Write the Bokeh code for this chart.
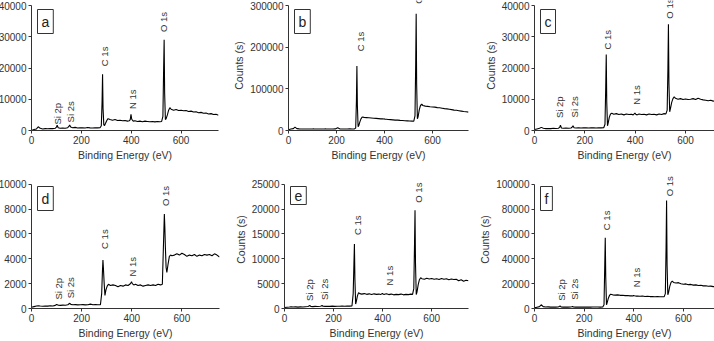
from bokeh.plotting import figure
from bokeh.layouts import row, column
from bokeh.models import Label, FixedTicker, BasicTickFormatter, Range1d
from bokeh.embed import file_html
from bokeh.resources import INLINE

energy = [0, 10, 20, 27, 35, 45, 55, 65, 75, 85,
          95, 100, 103, 107, 115, 125, 135, 145, 150, 153,
          157, 165, 175, 185, 195, 205, 215, 225, 235, 245,
          255, 265, 275, 280, 283, 285, 287, 290, 293, 297,
          302, 307, 315, 325, 335, 345, 355, 365, 375, 385,
          392, 396, 399, 402, 408, 415, 425, 435, 445, 455,
          465, 475, 485, 495, 505, 515, 522, 527, 530, 532,
          534, 537, 540, 545, 550, 555, 560, 570, 580, 590,
          600, 610, 620, 630, 640, 650, 660, 670, 680, 690,
          700, 710, 720, 730, 740, 750]

counts_a = [0, 300, 500, 1200, 700, 500, 600, 550, 650, 600,
            700, 1100, 1700, 900, 700, 750, 700, 900, 1300, 1800,
            1100, 900, 1000, 800, 900, 850, 800, 950, 850, 800,
            900, 850, 900, 1500, 9000, 18000, 7000, 1800, 1600, 2300,
            3200, 3800, 3500, 3300, 3500, 3200, 3300, 3100, 3200, 3000,
            3100, 3500, 5200, 3600, 3000, 3100, 2900, 3000, 2800, 3000,
            2900, 2800, 2900, 2750, 2900, 2800, 2900, 4500, 20000, 29000,
            12000, 3500, 3800, 5000, 6500, 7300, 6800, 6500, 6700, 6400,
            6500, 6300, 6400, 6100, 6200, 5900, 6000, 5700, 5800, 5500,
            5600, 5300, 5400, 5100, 5200, 4900]

counts_b = [2000, 3500, 4500, 8000, 4500, 3800, 3600, 3700, 3500, 3600,
            3500, 3700, 3900, 3600, 3500, 3600, 3500, 3600, 3700, 3900,
            3600, 3500, 3600, 3700, 3800, 6500, 3700, 3600, 3700, 3600,
            3800, 3700, 3900, 6000, 70000, 155000, 60000, 9000, 12000, 20000,
            28000, 32500, 31500, 31000, 30500, 30000, 29500, 29000, 28500, 28000,
            27800, 27500, 27800, 27300, 27000, 26500, 26000, 25500, 25000, 24800,
            24300, 24000, 23500, 23200, 22800, 22500, 22300, 35000, 160000, 280000,
            110000, 28000, 33000, 50000, 60000, 63000, 60000, 58500, 58000, 57000,
            56500, 56000, 55000, 54500, 53500, 52500, 52000, 51000, 50000, 49000,
            48500, 47500, 46500, 45500, 45000, 44000]

counts_c = [300, 500, 700, 1000, 700, 600, 650, 600, 700, 650,
            700, 1000, 1700, 800, 700, 750, 700, 800, 1100, 1500,
            900, 800, 850, 800, 900, 850, 800, 900, 850, 800,
            900, 850, 900, 2000, 14000, 24300, 9000, 1500, 2500, 4200,
            5300, 5500, 5200, 5400, 5100, 5300, 5000, 5300, 5100, 5200,
            5000, 5300, 5600, 5200, 5000, 5300, 5100, 5200, 5000, 5300,
            5100, 5200, 5000, 5300, 5100, 5400, 5300, 6500, 20000, 34000,
            15000, 6000, 7000, 9000, 10200, 10800, 10300, 10000, 10200, 9900,
            10100, 9900, 10000, 10200, 9900, 10300, 10000, 9800, 9700, 9500,
            9700, 9400, 9500, 9300, 9400, 9200]

counts_d = [100, 150, 200, 220, 200, 180, 200, 190, 220, 200,
            250, 320, 300, 260, 250, 270, 260, 300, 380, 420,
            330, 300, 310, 290, 300, 310, 290, 300, 350, 300,
            310, 300, 300, 1200, 3000, 3900, 3200, 2000, 1050, 1500,
            1800, 1950, 1850, 1900, 1850, 1750, 1850, 1800, 1900, 1850,
            1950, 2050, 2150, 2000, 1900, 1950, 1850, 1900, 1800, 1850,
            1900, 1850, 1900, 1850, 1950, 1900, 1950, 5500, 7600, 6500,
            5000, 3300, 2900, 3600, 4200, 4300, 4250, 4300, 4400, 4300,
            4450, 4350, 4200, 4300, 4250, 4350, 4200, 4300, 4250, 4350,
            4300, 4350, 4250, 4400, 4300, 4150]

counts_e = [200, 250, 300, 350, 300, 320, 280, 330, 300, 350,
            400, 500, 650, 400, 380, 420, 400, 450, 500, 600,
            450, 420, 450, 430, 480, 420, 460, 440, 480, 450,
            500, 470, 500, 3000, 9000, 13000, 6000, 900, 1500, 2500,
            3200, 3000, 2900, 3000, 2850, 2950, 2800, 2950, 2850, 2900,
            2800, 2950, 3050, 2900, 2850, 2950, 2800, 2900, 2750, 2850,
            2800, 2900, 2750, 2850, 2800, 2900, 2850, 4000, 13000, 19800,
            9000, 2800, 3300, 4800, 5800, 6200, 6000, 5900, 6100, 5950,
            6050, 5900, 6000, 5850, 6050, 5900, 6000, 5800, 5950, 5850,
            5900, 5600, 5800, 5500, 5700, 5600]

counts_f = [500, 1000, 1500, 3000, 1500, 1200, 1300, 1100, 1200, 1100,
            1200, 1600, 2000, 1300, 1100, 1200, 1100, 1200, 1400, 1700,
            1200, 1100, 1200, 1100, 1200, 1100, 1200, 1100, 1200, 1150,
            1200, 1100, 1200, 3000, 35000, 57000, 25000, 3000, 5000, 8000,
            10500, 11500, 11000, 10800, 11000, 10600, 10700, 10400, 10500, 10200,
            10300, 10100, 10600, 10200, 10000, 10100, 9900, 10000, 9700, 9800,
            9600, 9700, 9500, 9600, 9400, 9500, 9400, 12000, 50000, 87000,
            35000, 11000, 13000, 18000, 21000, 22000, 21000, 20500, 20800, 20000,
            19500, 19800, 19200, 19400, 18800, 19000, 18500, 18700, 18200, 18300,
            17900, 18000, 17600, 17700, 17400, 17500]

peaks_all = ["Si 2p", "Si 2s", "C 1s", "N 1s", "O 1s"]
peaks_b = ["C 1s", "O 1s"]

peak_x_a = [103, 156, 293, 405, 530]
peak_y_a = [1900, 2600, 20600, 6900, 31500]
peak_x_b = [300, 543]
peak_y_b = [190000, 304000]
peak_x_c = [100, 160, 289, 404, 536]
peak_y_c = [4000, 4200, 25900, 8250, 35800]
peak_x_d = [106, 155, 291, 404, 534]
peak_y_d = [716, 820, 4800, 2570, 8250]
peak_x_e = [103, 163, 299, 426, 548]
peak_y_e = [1530, 1730, 14800, 4650, 21300]
peak_x_f = [107, 161, 291, 412, 542]
peak_y_f = [6150, 6950, 63100, 17100, 90400]

yticks_a = [0, 10000, 20000, 30000, 40000]
yticks_b = [0, 100000, 200000, 300000]
yticks_c = [0, 10000, 20000, 30000, 40000]
yticks_d = [0, 2000, 4000, 6000, 8000, 10000]
yticks_e = [0, 5000, 10000, 15000, 20000, 25000]
yticks_f = [0, 20000, 40000, 60000, 80000, 100000]
xticks = [0, 200, 400, 600]

FONT = "Liberation Sans"
INK = "#333333"


def make_panel(letter, counts, yticks, xmax, names, px, py, ylabel,
               width, height, left, right, bottom, gap, margin):
    ymax = yticks[-1]
    frame_h = height - bottom
    yend = ymax * frame_h / (frame_h - gap)
    p = figure(width=width, height=height,
               x_range=Range1d(0, xmax), y_range=Range1d(0, yend),
               output_backend="svg", toolbar_location=None,
               min_border_left=left, min_border_right=right,
               min_border_top=0, min_border_bottom=bottom,
               margin=margin)
    p.line(energy, counts, line_color="black", line_width=1.1)
    p.xgrid.visible = False
    p.ygrid.visible = False
    p.outline_line_color = None
    p.background_fill_color = "white"
    p.border_fill_color = "white"
    p.xaxis.ticker = FixedTicker(ticks=xticks)
    p.yaxis.ticker = FixedTicker(ticks=yticks)
    p.yaxis.bounds = (0, ymax)
    p.yaxis.formatter = BasicTickFormatter(use_scientific=False)
    p.xaxis.axis_label = "Binding Energy (eV)"
    if ylabel:
        p.yaxis.axis_label = "Counts (s)"
    for ax in (p.xaxis[0], p.yaxis[0]):
        ax.axis_label_text_font = FONT
        ax.axis_label_text_font_style = "normal"
        ax.axis_label_text_font_size = "10.5px"
        ax.axis_label_text_color = INK
        ax.axis_label_standoff = 2
        ax.major_label_text_font = FONT
        ax.major_label_text_font_size = "10px"
        ax.major_label_text_color = INK
        ax.major_label_standoff = 2
        ax.major_tick_in = 0
        ax.major_tick_out = 3
        ax.minor_tick_in = 0
        ax.minor_tick_out = 0
        ax.axis_line_color = INK
        ax.major_tick_line_color = INK
    for name, xv, yv in zip(names, px, py):
        p.add_layout(Label(x=xv, y=yv, text=name, angle=90, angle_units="deg",
                           text_align="left", text_baseline="middle",
                           text_font=FONT, text_font_size="9.5px",
                           text_color=INK))
    p.add_layout(Label(x=6, y=frame_h - gap - 4, x_units="screen", y_units="screen",
                       text=letter, text_font=FONT, text_font_size="14px",
                       text_color="#222222", text_align="left",
                       text_baseline="top", padding=4,
                       border_line_color=INK, border_line_width=1,
                       background_fill_color="white"))
    return p


a = make_panel("a", counts_a, yticks_a, 750, peaks_all, peak_x_a, peak_y_a, False,
               235, 170, 34, 12, 40, 5, (0, 0, 0, -5))
b = make_panel("b", counts_b, yticks_b, 750, peaks_b, peak_x_b, peak_y_b, True,
               241, 170, 53, 3, 40, 5, (0, 0, 0, 0))
c = make_panel("c", counts_c, yticks_c, 715, peaks_all, peak_x_c, peak_y_c, True,
               243, 170, 63, 0, 40, 5, (0, 0, 0, 0))
d = make_panel("d", counts_d, yticks_d, 750, peaks_all, peak_x_d, peak_y_d, False,
               236, 171, 35, 12, 31, 14, (0, 0, 0, -5))
e = make_panel("e", counts_e, yticks_e, 750, peaks_all, peak_x_e, peak_y_e, True,
               240, 171, 53, 3, 31, 14, (0, 0, 0, 0))
f = make_panel("f", counts_f, yticks_f, 725, peaks_all, peak_x_f, peak_y_f, True,
               243, 171, 63, 0, 31, 14, (0, 0, 0, 0))

layout = column(row(a, b, c, spacing=0), row(d, e, f, spacing=0), spacing=0)

with open("out.html", "w") as fh:
    fh.write(file_html(layout, INLINE))
